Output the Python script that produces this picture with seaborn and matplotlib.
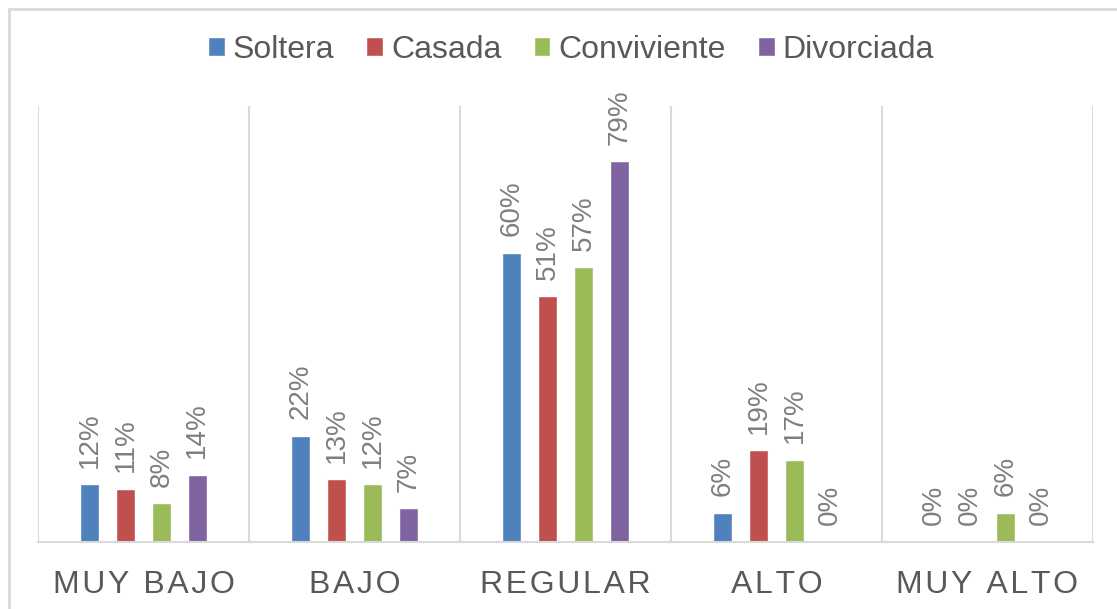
import pandas as pd
import seaborn as sns
import matplotlib.pyplot as plt
from matplotlib.patches import Rectangle

categories = ["MUY BAJO", "BAJO", "REGULAR", "ALTO", "MUY ALTO"]
groups = ["Soltera", "Casada", "Conviviente", "Divorciada"]
soltera = [0.12, 0.22, 0.60, 0.06, 0.00]
casada = [0.11, 0.13, 0.51, 0.19, 0.00]
conviviente = [0.08, 0.12, 0.57, 0.17, 0.06]
divorciada = [0.14, 0.07, 0.79, 0.00, 0.00]
colors = ["#4f81bd", "#c0504d", "#9bbb59", "#8064a2"]

rows = []
for g, vals in zip(groups, [soltera, casada, conviviente, divorciada]):
    for c, v in zip(categories, vals):
        rows.append({"nivel": c, "estado": g, "valor": v})
df = pd.DataFrame(rows)

sns.set_theme(style="white")
plt.rcParams["font.family"] = ["Liberation Sans", "DejaVu Sans"]

fig = plt.figure(figsize=(11.17, 6.09), dpi=100)
ax = fig.add_axes([38 / 1117, 1 - 542 / 609, (1093 - 38) / 1117, (542 - 106) / 609])

sns.barplot(data=df, x="nivel", y="valor", hue="estado", order=categories,
            hue_order=groups, palette=colors, width=0.68, gap=0.47,
            saturation=1, ax=ax, legend=True)

for cont in ax.containers:
    ax.bar_label(cont, labels=[f"{v * 100:.0f}%" for v in cont.datavalues],
                 rotation=90, padding=12, fontsize=20, color="#7f7f7f")

ax.set_ylim(0, 0.905)
ax.set_xlim(-0.5, len(categories) - 0.5)
for i in range(len(categories) + 1):
    ax.axvline(i - 0.5, color="#d9d9d9", lw=1.5, zorder=0)
for s in ["top", "right", "left"]:
    ax.spines[s].set_visible(False)
ax.spines["bottom"].set_color("#d9d9d9")
ax.spines["bottom"].set_linewidth(1.5)
ax.set_yticks([])
ax.set_xlabel("")
ax.set_ylabel("")
# Excel-style wide letter spacing on the category labels
ax.set_xticks(range(len(categories)))
ax.set_xticklabels(["\u200a".join(c) for c in categories])
ax.tick_params(axis="x", length=0, pad=20, labelsize=23, labelcolor="#595959")

ax.legend(loc="center", bbox_to_anchor=(571 / 1117, 1 - 50 / 609), bbox_transform=fig.transFigure,
          ncol=4, frameon=False, fontsize=23, labelcolor="#595959",
          handlelength=0.53, handleheight=0.53, handletextpad=0.25, columnspacing=1.0)

fig.patches.append(Rectangle((9 / 1117, -0.05), 1.2, 1 - 9 / 609 + 0.05,
                             transform=fig.transFigure, fill=False,
                             edgecolor="#d9d9d9", lw=2))

fig.savefig("out.png", dpi=100)
